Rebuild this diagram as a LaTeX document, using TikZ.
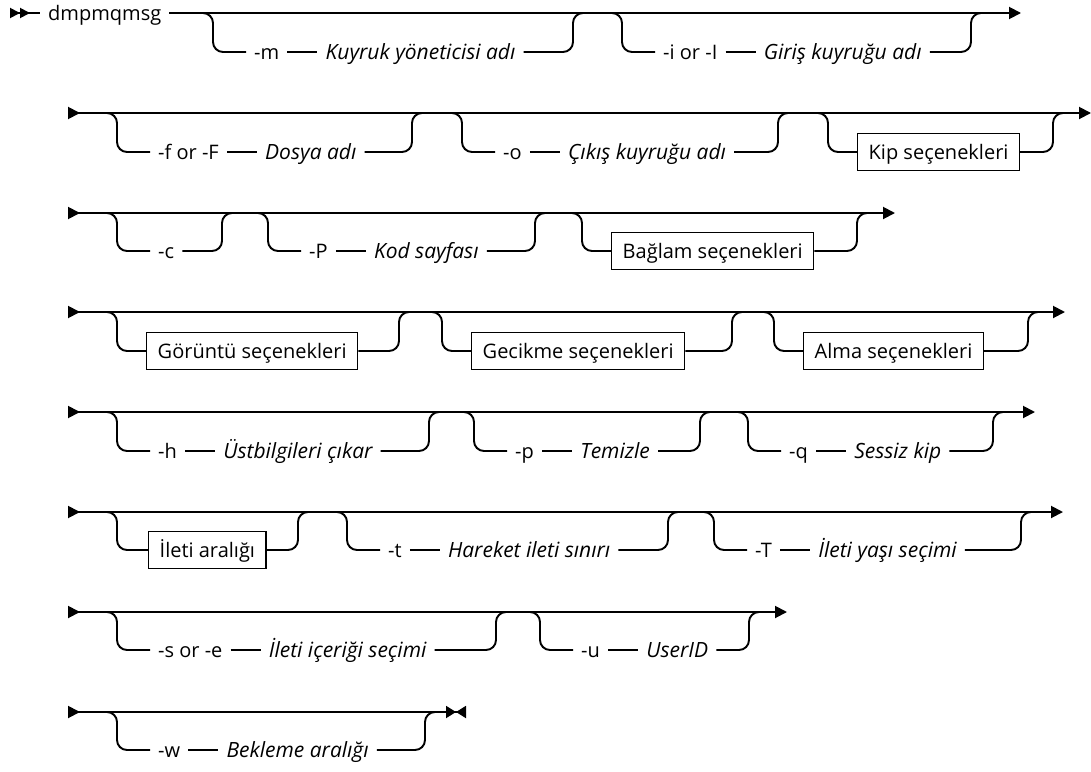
\documentclass[tikz,border=0pt]{standalone}
\usepackage{fontspec}
\setmainfont{Open Sans}
\usepackage{tikz}
\usetikzlibrary{arrows.meta, positioning}

\begin{document}
\begin{tikzpicture}[
  x=1pt, y=-1pt,
  rail/.style={line width=1.9pt, rounded corners=10pt},
  opt/.style={font=\fontsize{20}{24}\selectfont, inner xsep=8pt, inner ysep=0pt,
    text height=19pt, text depth=4.6pt},
  var/.style={opt, font=\fontsize{21}{24}\selectfont\itshape},
  blk/.style={opt, draw, line width=1.4pt, inner xsep=11pt, minimum height=37pt},
  go/.style={-{Triangle[length=12pt, width=12pt]}},
  cont/.style={{Triangle[reversed, length=12pt, width=12pt]}-{Triangle[length=12pt, width=12pt]}}
]
  \useasboundingbox (0,0) rectangle (1091,771);

  % Row 1
  \coordinate (r1s) at (10,13);
  \coordinate (r1e) at (1021,13);
  \node[opt, anchor=west] (cmd) at (40,13) {dmpmqmsg};
  \draw[rail, {Triangle[reversed, length=10pt, width=10pt]Triangle[reversed, length=10pt, width=10pt]}-] (r1s) -- (cmd);
  \draw[rail, go] (cmd) -- (r1e);

  \coordinate (m-s) at (213,13);
  \coordinate (m-j) at (573,13);
  \node[opt, anchor=west] (m) at (246,52) {-m};
  \node[var, right=30pt of m] (mname) {Kuyruk yöneticisi adı};
  \draw[rail] (m) -- (mname);
  \draw[rail] (m-s) ++(-12,0) -- (m-s) |- (m);
  \draw[rail] (mname) -| (m-j) -- ++(12,0);

  \coordinate (i-s) at (622,13);
  \coordinate (i-j) at (971,13);
  \node[opt, anchor=west] (i) at (655,52) {-i or -I};
  \node[var, right=30pt of i] (iname) {Giriş kuyruğu adı};
  \draw[rail] (i) -- (iname);
  \draw[rail] (i-s) ++(-12,0) -- (i-s) |- (i);
  \draw[rail] (iname) -| (i-j) -- ++(12,0);

  % Row 2
  \coordinate (r2s) at (68,113);
  \coordinate (r2e) at (1091,113);
  \draw[rail, cont] (r2s) -- (r2e);

  \coordinate (f-s) at (117,113);
  \coordinate (f-j) at (412,113);
  \node[opt, anchor=west] (f) at (150,152) {-f or -F};
  \node[var, right=30pt of f] (fname) {Dosya adı};
  \draw[rail] (f) -- (fname);
  \draw[rail] (f-s) ++(-12,0) -- (f-s) |- (f);
  \draw[rail] (fname) -| (f-j) -- ++(12,0);

  \coordinate (o-s) at (462,113);
  \coordinate (o-j) at (778,113);
  \node[opt, anchor=west] (o) at (495,152) {-o};
  \node[var, right=30pt of o] (oname) {Çıkış kuyruğu adı};
  \draw[rail] (o) -- (oname);
  \draw[rail] (o-s) ++(-12,0) -- (o-s) |- (o);
  \draw[rail] (oname) -| (o-j) -- ++(12,0);

  \coordinate (kip-s) at (828,113);
  \coordinate (kip-j) at (1053,113);
  \node[blk, anchor=west] (kip) at (857,152) {Kip seçenekleri};
  \draw[rail] (kip-s) ++(-12,0) -- (kip-s) |- (kip);
  \draw[rail] (kip) -| (kip-j) -- ++(12,0);

  % Row 3
  \coordinate (r3s) at (68,213);
  \coordinate (r3e) at (895,213);
  \draw[rail, cont] (r3s) -- (r3e);

  \coordinate (c-s) at (117,213);
  \coordinate (c-j) at (222,213);
  \node[opt, anchor=west] (c) at (150,251) {-c};
  \draw[rail] (c-s) ++(-12,0) -- (c-s) |- (c);
  \draw[rail] (c) -| (c-j) -- ++(12,0);

  \coordinate (P-s) at (268,213);
  \coordinate (P-j) at (535,213);
  \node[opt, anchor=west] (P) at (301,251) {-P};
  \node[var, right=30pt of P] (Pname) {Kod sayfası};
  \draw[rail] (P) -- (Pname);
  \draw[rail] (P-s) ++(-12,0) -- (P-s) |- (P);
  \draw[rail] (Pname) -| (P-j) -- ++(12,0);

  \coordinate (ctx-s) at (582,213);
  \coordinate (ctx-j) at (857,213);
  \node[blk, anchor=west] (ctx) at (611,251) {Bağlam seçenekleri};
  \draw[rail] (ctx-s) ++(-12,0) -- (ctx-s) |- (ctx);
  \draw[rail] (ctx) -| (ctx-j) -- ++(12,0);

  % Row 4
  \coordinate (r4s) at (68,312);
  \coordinate (r4e) at (1065,312);
  \draw[rail, cont] (r4s) -- (r4e);

  \coordinate (disp-s) at (117,312);
  \coordinate (disp-j) at (399,312);
  \node[blk, anchor=west] (disp) at (146,351) {Görüntü seçenekleri};
  \draw[rail] (disp-s) ++(-12,0) -- (disp-s) |- (disp);
  \draw[rail] (disp) -| (disp-j) -- ++(12,0);

  \coordinate (delay-s) at (442,312);
  \coordinate (delay-j) at (732,312);
  \node[blk, anchor=west] (delay) at (471,351) {Gecikme seçenekleri};
  \draw[rail] (delay-s) ++(-12,0) -- (delay-s) |- (delay);
  \draw[rail] (delay) -| (delay-j) -- ++(12,0);

  \coordinate (get-s) at (774,312);
  \coordinate (get-j) at (1028,312);
  \node[blk, anchor=west] (get) at (803,351) {Alma seçenekleri};
  \draw[rail] (get-s) ++(-12,0) -- (get-s) |- (get);
  \draw[rail] (get) -| (get-j) -- ++(12,0);

  % Row 5
  \coordinate (r5s) at (68,412);
  \coordinate (r5e) at (1035,412);
  \draw[rail, cont] (r5s) -- (r5e);

  \coordinate (h-s) at (117,412);
  \coordinate (h-j) at (429,412);
  \node[opt, anchor=west] (h) at (150,451) {-h};
  \node[var, right=30pt of h] (hname) {Üstbilgileri çıkar};
  \draw[rail] (h) -- (hname);
  \draw[rail] (h-s) ++(-12,0) -- (h-s) |- (h);
  \draw[rail] (hname) -| (h-j) -- ++(12,0);

  \coordinate (p-s) at (474,412);
  \coordinate (p-j) at (700,412);
  \node[opt, anchor=west] (p) at (507,451) {-p};
  \node[var, right=30pt of p] (pname) {Temizle};
  \draw[rail] (p) -- (pname);
  \draw[rail] (p-s) ++(-12,0) -- (p-s) |- (p);
  \draw[rail] (pname) -| (p-j) -- ++(12,0);

  \coordinate (q-s) at (748,412);
  \coordinate (q-j) at (993,412);
  \node[opt, anchor=west] (q) at (781,451) {-q};
  \node[var, right=30pt of q] (qname) {Sessiz kip};
  \draw[rail] (q) -- (qname);
  \draw[rail] (q-s) ++(-12,0) -- (q-s) |- (q);
  \draw[rail] (qname) -| (q-j) -- ++(12,0);

  % Row 6
  \coordinate (r6s) at (68,512);
  \coordinate (r6e) at (1063,512);
  \draw[rail, cont] (r6s) -- (r6e);

  \coordinate (range-s) at (117,512);
  \coordinate (range-j) at (298,512);
  \node[blk, anchor=west] (range) at (148,550) {İleti aralığı};
  \draw[rail] (range-s) ++(-12,0) -- (range-s) |- (range);
  \draw[rail] (range) -| (range-j) -- ++(12,0);

  \coordinate (t-s) at (347,512);
  \coordinate (t-j) at (668,512);
  \node[opt, anchor=west] (t) at (380,550) {-t};
  \node[var, right=30pt of t] (tname) {Hareket ileti sınırı};
  \draw[rail] (t) -- (tname);
  \draw[rail] (t-s) ++(-12,0) -- (t-s) |- (t);
  \draw[rail] (tname) -| (t-j) -- ++(12,0);

  \coordinate (T-s) at (714,512);
  \coordinate (T-j) at (1021,512);
  \node[opt, anchor=west] (T) at (747,550) {-T};
  \node[var, right=30pt of T] (Tname) {İleti yaşı seçimi};
  \draw[rail] (T) -- (Tname);
  \draw[rail] (T-s) ++(-12,0) -- (T-s) |- (T);
  \draw[rail] (Tname) -| (T-j) -- ++(12,0);

  % Row 7
  \coordinate (r7s) at (68,612);
  \coordinate (r7e) at (787,612);
  \draw[rail, cont] (r7s) -- (r7e);

  \coordinate (se-s) at (117,612);
  \coordinate (se-j) at (496,612);
  \node[opt, anchor=west] (se) at (150,650) {-s or -e};
  \node[var, right=30pt of se] (sename) {İleti içeriği seçimi};
  \draw[rail] (se) -- (sename);
  \draw[rail] (se-s) ++(-12,0) -- (se-s) |- (se);
  \draw[rail] (sename) -| (se-j) -- ++(12,0);

  \coordinate (u-s) at (540,612);
  \coordinate (u-j) at (749,612);
  \node[opt, anchor=west] (u) at (573,650) {-u};
  \node[var, right=30pt of u] (uname) {UserID};
  \draw[rail] (u) -- (uname);
  \draw[rail] (u-s) ++(-12,0) -- (u-s) |- (u);
  \draw[rail] (uname) -| (u-j) -- ++(12,0);

  % Row 8
  \coordinate (r8s) at (68,712);
  \coordinate (r8e) at (466,712);
  \draw[rail, {Triangle[reversed, length=12pt, width=12pt]}-{Triangle[length=10pt, width=12pt]Triangle[reversed, length=10pt, width=12pt]}] (r8s) -- (r8e);

  \coordinate (w-s) at (117,712);
  \coordinate (w-j) at (425,712);
  \node[opt, anchor=west] (w) at (150,750) {-w};
  \node[var, right=30pt of w] (wname) {Bekleme aralığı};
  \draw[rail] (w) -- (wname);
  \draw[rail] (w-s) ++(-12,0) -- (w-s) |- (w);
  \draw[rail] (wname) -| (w-j) -- ++(12,0);
\end{tikzpicture}
\end{document}
